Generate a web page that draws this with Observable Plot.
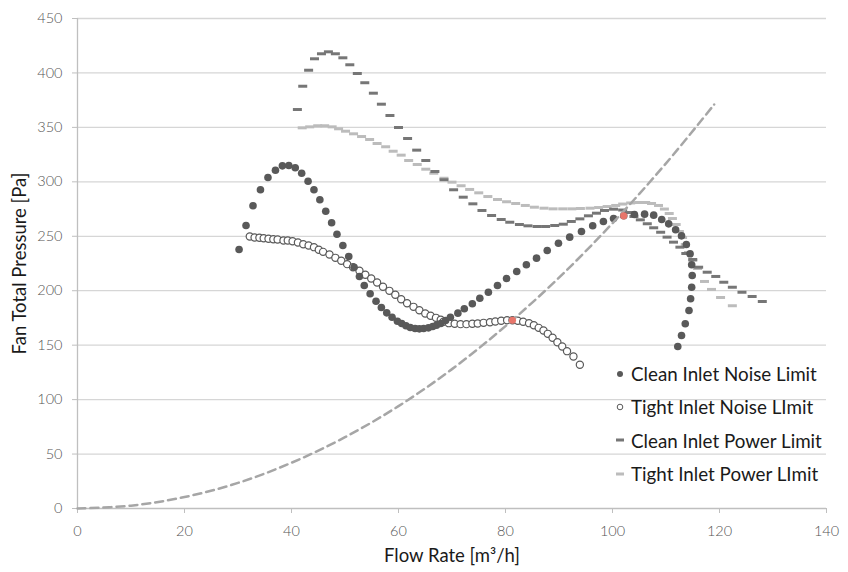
<!DOCTYPE html>
<html>
<head>
<meta charset="utf-8">
<script src="https://cdn.jsdelivr.net/npm/d3@7"></script>
<script src="https://cdn.jsdelivr.net/npm/@observablehq/plot@0.6"></script>
<style>
  html, body { margin: 0; padding: 0; background: #fff; }
  #wrap { position: relative; width: 848px; height: 572px; font-family: Lato, "Open Sans", sans-serif; }
  #legend { position: absolute; left: 612px; top: 357px; font-size: 18.8px; color: #1a1a1a; }
  #legend .row { height: 33.3px; display: flex; align-items: center; white-space: nowrap; }
  #legend svg { width: 16px; height: 12px; margin-right: 3px; }
</style>
</head>
<body>
<div id="wrap">
  <div id="chart"></div>
  <div id="legend"></div>
</div>
<script>
// Series: [flow rate m³/h, fan total pressure Pa]
const cleanNoise = [
  [30.2,237.9],[31.5,259.9],[32.8,278.0],[34.2,292.7],[35.6,304.0],[37.0,310.7],[38.3,314.7],[39.5,315.0],
  [40.7,312.9],[41.9,307.9],[43.1,300.6],[44.2,292.7],[45.3,283.5],[46.4,273.0],[47.5,262.4],[48.5,251.9],
  [49.6,241.5],[50.7,231.4],[51.7,221.6],[52.7,213.1],[53.6,204.8],[54.7,197.2],[55.8,190.4],[56.8,184.6],
  [57.8,179.7],[58.8,175.7],[59.8,172.0],[60.6,169.9],[61.4,167.8],[62.2,166.2],[63.1,165.3],[63.9,165.0],
  [64.7,165.3],[65.6,165.9],[66.4,167.1],[67.1,168.3],[67.9,169.9],[68.8,172.6],[69.7,175.7],[71.1,179.4],
  [72.3,183.4],[73.8,188.0],[75.2,193.1],[76.8,198.6],[78.5,204.8],[80.2,211.2],[82.1,217.7],[83.9,223.8],
  [85.8,229.9],[87.8,236.9],[89.9,243.6],[92.0,249.2],[94.2,254.4],[96.3,259.6],[98.3,263.6],[100.2,266.3],
  [102.1,268.8],[104.1,270.0],[106.0,270.3],[107.7,269.4],[109.2,265.4],[110.5,261.4],[111.8,256.0],[112.9,250.4],
  [113.8,242.5],[114.5,233.9],[114.8,223.8],[114.9,214.0],[114.8,203.2],[114.6,192.6],[114.3,181.8],[113.6,169.6],
  [112.9,158.9],[112.2,148.8]
];
const tightNoise = [
  [32.2,249.8],[33.1,248.9],[34.0,248.6],[34.8,248.2],[35.7,247.7],[36.6,247.3],[37.4,247.0],[38.5,246.1],
  [39.3,246.1],[40.2,245.5],[41.2,244.3],[42.2,242.7],[43.2,241.5],[44.2,240.0],[45.1,237.6],[45.9,235.7],
  [47.1,233.3],[48.2,230.2],[49.3,227.5],[50.4,224.4],[51.5,221.6],[52.7,218.3],[53.8,214.6],[54.9,211.2],
  [56.0,207.6],[57.1,203.6],[58.3,199.9],[59.4,196.3],[60.5,192.2],[61.6,188.5],[62.8,185.2],[63.9,182.1],
  [65.0,179.1],[66.0,177.0],[67.0,175.1],[67.9,173.3],[68.4,171.5],[69.4,170.2],[70.5,169.6],[71.6,169.3],
  [72.7,169.3],[73.8,169.6],[74.8,169.9],[75.9,170.5],[77.1,171.1],[78.1,171.7],[79.2,172.4],[80.3,172.9],
  [81.3,172.9],[82.3,172.4],[83.3,171.5],[84.4,170.2],[85.3,168.3],[86.2,165.9],[87.1,163.5],[87.9,160.4],
  [88.8,156.8],[89.7,152.7],[90.6,148.8],[91.5,144.5],[92.7,139.6],[93.9,132.0]
];
const cleanPower = [
  [41.1,366.4],[42.1,387.8],[43.2,402.5],[44.3,413.0],[45.6,417.6],[46.9,419.4],[48.2,417.6],[49.6,413.9],
  [50.9,407.5],[52.3,399.5],[53.7,391.0],[55.3,381.4],[56.8,371.3],[58.4,360.9],[60.0,349.9],[61.7,339.8],
  [63.4,329.1],[65.1,319.6],[66.8,309.5],[68.5,301.9],[70.3,292.7],[72.1,285.9],[73.9,279.8],[75.6,273.7],
  [77.4,269.1],[79.2,265.4],[80.8,262.9],[82.6,260.8],[84.2,259.6],[85.9,259.0],[87.5,259.0],[89.2,259.9],
  [90.8,261.1],[92.3,263.6],[93.9,266.0],[95.5,268.8],[97.0,271.2],[98.5,273.7],[100.2,274.9],[101.9,274.1],
  [103.0,271.8],[104.0,268.2],[105.2,265.1],[106.5,261.5],[107.7,257.8],[109.0,253.7],[110.2,249.2],[111.4,244.6],
  [112.6,240.0],[113.7,234.2],[115.0,228.7],[116.1,221.6],[117.7,217.0],[119.3,213.1],[120.8,207.8],[122.4,203.2],
  [124.2,198.6],[126.1,194.7],[128.0,190.1]
];
const tightPower = [
  [42.0,349.6],[43.4,350.5],[44.9,351.5],[46.2,351.5],[47.6,350.5],[48.8,348.7],[50.1,346.5],[51.6,344.1],
  [53.1,341.6],[54.6,338.9],[56.0,335.2],[57.6,332.2],[59.0,328.1],[60.5,324.5],[61.9,319.6],[63.5,315.9],
  [65.1,311.6],[66.6,307.9],[68.5,303.3],[70.0,299.7],[71.7,296.4],[73.3,293.0],[75.0,289.9],[76.7,286.5],
  [78.5,283.8],[80.2,281.7],[81.9,280.1],[83.7,278.3],[85.4,276.7],[87.2,275.8],[88.9,275.2],[90.7,275.2],
  [92.4,275.2],[94.0,275.5],[95.8,275.8],[97.4,276.4],[99.0,277.3],[100.6,278.3],[101.9,279.6],[103.4,280.6],
  [104.9,281.0],[106.2,281.0],[107.3,280.1],[108.6,278.3],[109.7,275.0],[110.6,270.9],[111.2,266.3],[111.9,260.8],
  [112.5,254.4],[113.1,248.9],[113.6,242.5],[114.2,235.1],[115.0,227.8],[115.9,220.4],[117.2,208.5],[118.5,201.2],
  [120.2,193.8],[122.4,186.2]
];
// System curve (dashed)
const systemCurve = [
  [0,0],[10,2.6],[20,10.5],[30,23.5],[40,42],[50,65.5],[60,94],[70,128],[80,167.5],[90,212],[100,262],[110,317],[119,371]
];
// Operating points (highlighted in red)
const operatingPoints = [[81.3,172.9],[102.1,268.8]];

const xTicks = [0,20,40,60,80,100,120,140];
const yTicks = [0,50,100,150,200,250,300,350,400,450];
const seriesNames = ["Clean Inlet Noise Limit","Tight Inlet Noise LImit","Clean Inlet Power Limit","Tight Inlet Power LImit"];
const xLabel = "Flow Rate [m³/h]";
const yLabel = "Fan Total Pressure [Pa]";

const dashSymbol = {
  draw(ctx) {
    ctx.moveTo(-4.5,-1.5); ctx.lineTo(4.5,-1.5); ctx.lineTo(4.5,1.5); ctx.lineTo(-4.5,1.5); ctx.closePath();
  }
};

const tickColor = "#555";
const chart = Plot.plot({
  width: 848,
  height: 572,
  marginLeft: 77,
  marginRight: 22,
  marginTop: 18,
  marginBottom: 64,
  style: { fontFamily: "Lato, 'Open Sans', sans-serif", background: "#fff" },
  x: { domain: [0,140] },
  y: { domain: [0,450] },
  marks: [
    Plot.gridY(yTicks.filter(d => d > 0), { stroke: "#d6d6d6", strokeOpacity: 1, strokeWidth: 1.3 }),
    Plot.ruleY([0], { stroke: "#bfbfbf", strokeWidth: 1.3 }),
    Plot.ruleX([0], { stroke: "#bfbfbf", strokeWidth: 1.3 }),
    Plot.axisX(xTicks, { tickSize: 5, tickPadding: 12, stroke: "#bfbfbf", fill: tickColor, fontSize: 14.5, fontWeight: 300, label: null }),
    Plot.axisY(yTicks, { tickSize: 5, tickPadding: 10, stroke: "#bfbfbf", fill: tickColor, fontSize: 14.5, fontWeight: 300, label: null }),
    Plot.text([xLabel], { frameAnchor: "bottom", dy: 48, fontSize: 18.5, fill: "#1a1a1a", textAnchor: "middle", lineAnchor: "middle" }),
    Plot.text([yLabel], { frameAnchor: "left", dx: -57, rotate: -90, fontSize: 18.5, fill: "#1a1a1a", textAnchor: "middle", lineAnchor: "middle" }),
    Plot.dot(tightPower, { x: d => d[0], y: d => d[1], symbol: dashSymbol, fill: "#bcbcbc", stroke: "none" }),
    Plot.dot(cleanPower, { x: d => d[0], y: d => d[1], symbol: dashSymbol, fill: "#767676", stroke: "none" }),
    Plot.dot(tightNoise, { x: d => d[0], y: d => d[1], r: 3.6, fill: "#fff", stroke: "#595959", strokeWidth: 1.2 }),
    Plot.dot(cleanNoise, { x: d => d[0], y: d => d[1], r: 3.8, fill: "#595959", stroke: "none" }),
    Plot.line(systemCurve, { x: d => d[0], y: d => d[1], curve: "catmull-rom", stroke: "#a6a6a6", strokeWidth: 2.5, strokeDasharray: "8,5" }),
    Plot.dot(operatingPoints, { x: d => d[0], y: d => d[1], r: 3.6, fill: "#e8766b", stroke: "none" })
  ]
});
document.getElementById("chart").appendChild(chart);

const markers = [
  '<circle cx="8" cy="6" r="3" fill="#595959"/>',
  '<circle cx="8" cy="6" r="2.8" fill="#fff" stroke="#595959" stroke-width="1"/>',
  '<rect x="4" y="4.5" width="8" height="3" fill="#767676"/>',
  '<rect x="4" y="4.5" width="8" height="3" fill="#bcbcbc"/>'
];
const legend = document.getElementById("legend");
seriesNames.forEach((name, i) => {
  const row = document.createElement("div");
  row.className = "row";
  row.innerHTML = `<svg viewBox="0 0 16 12">${markers[i]}</svg><span>${name}</span>`;
  legend.appendChild(row);
});
</script>
</body>
</html>
